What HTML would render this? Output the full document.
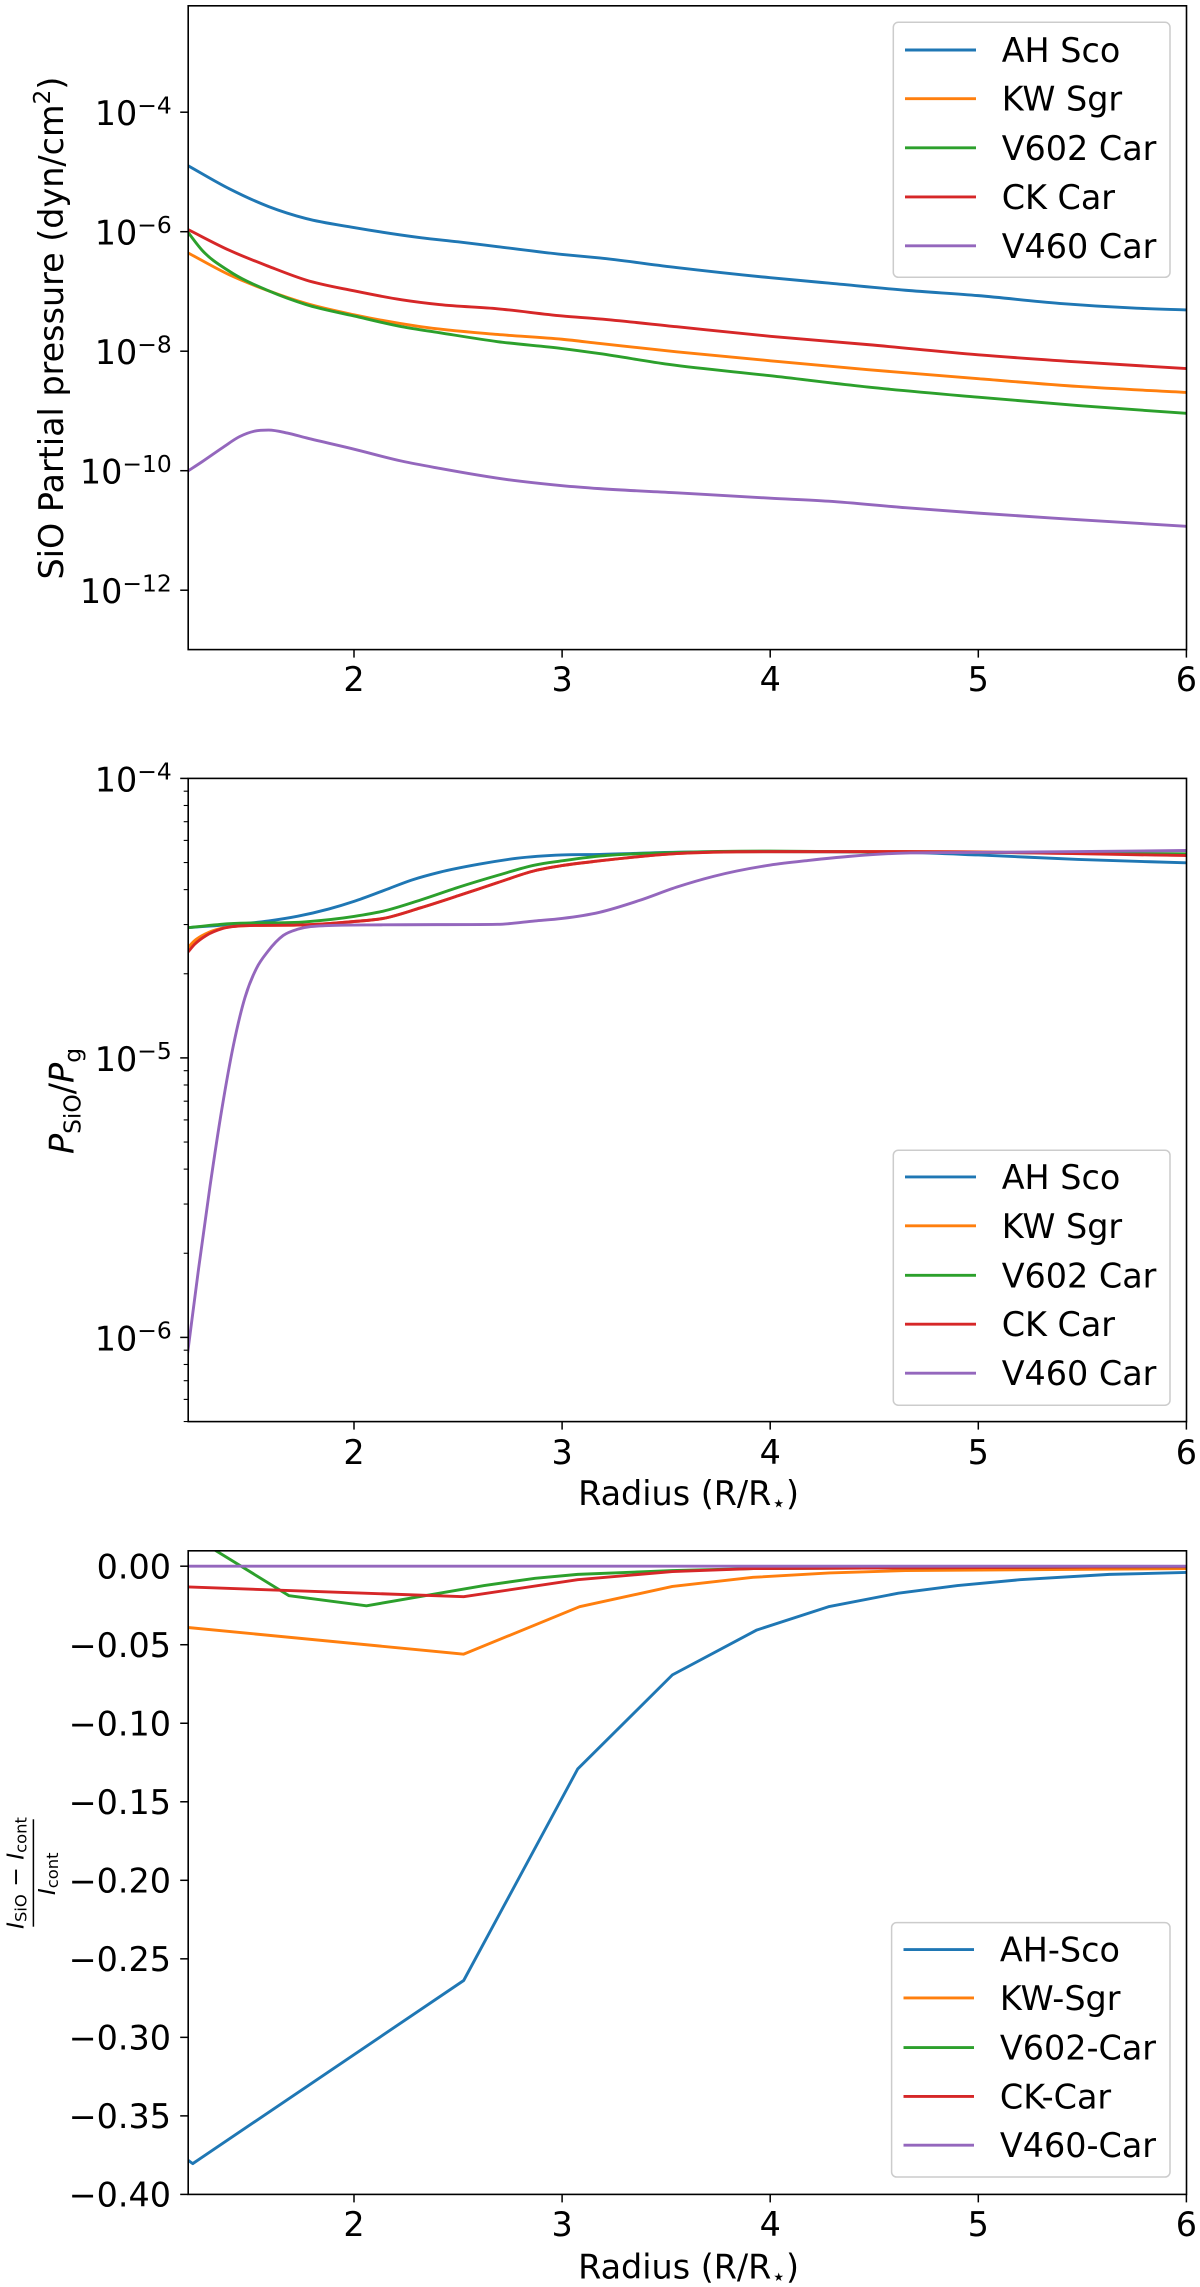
<!DOCTYPE html>
<html lang="en">
<head>
<meta charset="utf-8">
<title>SiO partial pressure, abundance and line depth versus radius</title>
<style>
html,body{margin:0;padding:0;background:#fff;width:1200px;height:2287px;overflow:hidden}
svg{display:block}
text{font-family:"DejaVu Sans","Liberation Sans",sans-serif;fill:#000}
</style>
</head>
<body>
<svg id="figure" xmlns="http://www.w3.org/2000/svg" width="1200" height="2287" viewBox="0 0 1200 2287">
  <rect x="0" y="0" width="1200" height="2287" fill="#fff"/>
</svg>
<script>
// ---------- Shared labels ----------
const seriesNames = ["AH Sco", "KW Sgr", "V602 Car", "CK Car", "V460 Car"];
const seriesNamesDashed = ["AH-Sco", "KW-Sgr", "V602-Car", "CK-Car", "V460-Car"];
const xTickValues = [2, 3, 4, 5, 6];

// ---------- Panel 1: SiO partial pressure (log10 dyn/cm2) ----------
const pressureExponentTicks = [-4, -6, -8, -10, -12];
const pressureAhR = [1.2,1.4,1.59,1.77,2,2.32,2.5,2.69,3,3.18,3.55,4,4.28,4.65,5,5.39,5.76,6];
const pressureAhLog = [-4.89,-5.28,-5.58,-5.78,-5.93,-6.10,-6.17,-6.25,-6.38,-6.44,-6.60,-6.77,-6.86,-6.98,-7.07,-7.20,-7.28,-7.31];
const pressureKwR = [1.2,1.4,1.59,1.77,2,2.32,2.69,3,3.18,3.55,4,4.47,5,5.48,6];
const pressureKwLog = [-6.35,-6.72,-6.99,-7.20,-7.39,-7.59,-7.72,-7.80,-7.87,-8.01,-8.16,-8.31,-8.46,-8.59,-8.69];
const pressureV602R = [1.2,1.27,1.4,1.59,1.77,2,2.23,2.41,2.69,3,3.18,3.51,4,4.47,5,5.48,6];
const pressureV602Log = [-6.00,-6.31,-6.66,-6.99,-7.22,-7.41,-7.59,-7.69,-7.84,-7.955,-8.04,-8.22,-8.41,-8.60,-8.77,-8.91,-9.04];
const pressureCkR = [1.2,1.4,1.59,1.77,2,2.23,2.41,2.69,3,3.18,3.55,4,4.47,5,5.48,6];
const pressureCkLog = [-5.96,-6.31,-6.58,-6.81,-6.99,-7.14,-7.22,-7.29,-7.41,-7.46,-7.59,-7.75,-7.89,-8.06,-8.18,-8.29];
const pressureV460R = [1.2,1.27,1.37,1.45,1.52,1.59,1.68,1.77,2,2.23,2.41,2.74,3,3.18,3.55,4,4.28,4.65,5,5.48,6];
const pressureV460Log = [-10.01,-9.85,-9.61,-9.43,-9.34,-9.32,-9.37,-9.45,-9.64,-9.84,-9.96,-10.15,-10.25,-10.30,-10.37,-10.46,-10.51,-10.62,-10.71,-10.82,-10.93];

// ---------- Panel 2: P_SiO / P_g (log10) ----------
const ratioExponentTicks = [-4, -5, -6];
const ratioMinorMultipliers = [2, 3, 4, 5, 6, 7, 8, 9];
const ratioAhR = [1.2,1.59,1.73,1.88,2,2.14,2.28,2.41,2.6,2.78,3,3.18,3.55,4,4.65,5,5.48,6];
const ratioAhLog = [-4.534,-4.51,-4.493,-4.467,-4.44,-4.402,-4.363,-4.336,-4.307,-4.286,-4.274,-4.272,-4.264,-4.262,-4.265,-4.274,-4.29,-4.302];
const ratioKwR = [1.2,1.235,1.29,1.365,1.48,1.77,2,2.14,2.32,2.5,2.69,2.87,3,3.18,3.55,4,4.65,6];
const ratioKwLog = [-4.607,-4.58,-4.555,-4.536,-4.527,-4.524,-4.512,-4.501,-4.463,-4.42,-4.373,-4.33,-4.312,-4.295,-4.269,-4.262,-4.262,-4.272];
const ratioV602R = [1.2,1.4,1.77,2,2.14,2.32,2.5,2.69,2.87,3,3.18,3.55,4,4.65,5,6];
const ratioV602Log = [-4.534,-4.52,-4.513,-4.494,-4.475,-4.435,-4.39,-4.347,-4.31,-4.295,-4.278,-4.265,-4.26,-4.264,-4.265,-4.27];
const ratioCkR = [1.2,1.235,1.29,1.365,1.48,1.77,2,2.14,2.32,2.5,2.69,2.87,3,3.18,3.55,4,4.65,6];
const ratioCkLog = [-4.623,-4.593,-4.562,-4.538,-4.527,-4.524,-4.512,-4.501,-4.463,-4.42,-4.373,-4.33,-4.312,-4.295,-4.269,-4.262,-4.262,-4.276];
const ratioV460R = [1.2,1.253,1.308,1.365,1.42,1.476,1.531,1.586,1.66,1.733,1.86,2.14,2.69,2.87,3,3.18,3.37,3.55,3.73,4,4.19,4.38,4.65,5,6];
const ratioV460Log = [-6.059,-5.755,-5.46,-5.183,-4.957,-4.784,-4.68,-4.619,-4.562,-4.539,-4.527,-4.524,-4.522,-4.51,-4.501,-4.479,-4.437,-4.389,-4.35,-4.31,-4.293,-4.279,-4.267,-4.265,-4.258];

// ---------- Panel 3: relative line depth ----------
const depthTickValues = [0, -0.05, -0.10, -0.15, -0.20, -0.25, -0.30, -0.35, -0.40];
const depthTickLabels = ["0.00", "\u22120.05", "\u22120.10", "\u22120.15", "\u22120.20", "\u22120.25", "\u22120.30", "\u22120.35", "\u22120.40"];
const depthAhR = [1.2,1.225,2.527,3.075,3.53,3.936,4.28,4.616,4.90,5.2,5.63,6];
const depthAhVal = [-0.378,-0.3804,-0.2638,-0.1291,-0.0692,-0.0406,-0.0258,-0.0172,-0.0123,-0.0086,-0.0052,-0.004];
const depthKwR = [1.2,2.527,3.084,3.53,3.917,4.285,4.65,6];
const depthKwVal = [-0.039,-0.056,-0.0258,-0.0129,-0.0071,-0.0043,-0.0028,-0.0015];
const depthV602R = [1.2,1.688,2.06,2.625,2.87,3.075,3.53,3.92,6];
const depthV602Val = [0.021,-0.0188,-0.0252,-0.0123,-0.0077,-0.0052,-0.0028,-0.0015,-0.0003];
const depthCkR = [1.2,2.527,3.075,3.53,3.92,6];
const depthCkVal = [-0.0132,-0.0194,-0.0086,-0.0034,-0.0015,-0.0003];
const depthV460R = [1.2,2,3,4,5,6];
const depthV460Val = [0,0,0,0,0,0];

// ---------- Rendering ----------
const NS = "http://www.w3.org/2000/svg";
const fig = document.getElementById("figure");
const COLORS = ["#1f77b4", "#ff7f0e", "#2ca02c", "#d62728", "#9467bd"];
const SLUGS = ["ah-sco", "kw-sgr", "v602-car", "ck-car", "v460-car"];
const FONT = 33.4;
const AX_L = 188.2, AX_R = 1186.5;
const xScale = r => 354 + (r - 2) * 208.1;

function make(tag, parent, attrs) {
  const e = document.createElementNS(NS, tag);
  for (const k in attrs) e.setAttribute(k, attrs[k]);
  parent.appendChild(e);
  return e;
}
function hText(parent, x, y, anchor, size) {
  return make("text", parent, {
    transform: "translate(" + x + "," + y + ")",
    "text-anchor": anchor,
    "font-size": size || FONT
  });
}
function vText(parent, x, y, anchor, size) {
  return make("text", parent, {
    transform: "translate(" + x + "," + y + ") rotate(-90)",
    "text-anchor": anchor,
    "font-size": size || FONT
  });
}
function smoothPath(pts) {
  const n = pts.length, d = [], w = [], m = [];
  for (let i = 0; i < n - 1; i++) {
    w.push(pts[i + 1][0] - pts[i][0]);
    d.push((pts[i + 1][1] - pts[i][1]) / w[i]);
  }
  m[0] = d[0];
  m[n - 1] = d[n - 2];
  for (let i = 1; i < n - 1; i++) {
    if (d[i - 1] * d[i] <= 0) {
      m[i] = 0;
    } else {
      const avg = (w[i] * d[i - 1] + w[i - 1] * d[i]) / (w[i - 1] + w[i]);
      const limit = 3 * Math.min(Math.abs(d[i - 1]), Math.abs(d[i]));
      m[i] = Math.sign(avg) * Math.min(Math.abs(avg), limit);
    }
  }
  let s = "M" + pts[0][0].toFixed(2) + " " + pts[0][1].toFixed(2);
  for (let i = 0; i < n - 1; i++) {
    const h = w[i] / 3;
    s += "C" + (pts[i][0] + h).toFixed(2) + " " + (pts[i][1] + m[i] * h).toFixed(2) + " " +
         (pts[i + 1][0] - h).toFixed(2) + " " + (pts[i + 1][1] - m[i + 1] * h).toFixed(2) + " " +
         pts[i + 1][0].toFixed(2) + " " + pts[i + 1][1].toFixed(2);
  }
  return s;
}
function straightPath(pts) {
  return "M" + pts.map(p => p[0].toFixed(2) + " " + p[1].toFixed(2)).join("L");
}
function drawSeries(panel, clipId, prefix, rs, vals, yScale, idx, smooth) {
  const pts = rs.map((r, i) => [xScale(r), yScale(vals[i])]);
  const p = make("path", panel, {
    d: smooth ? smoothPath(pts) : straightPath(pts),
    fill: "none",
    stroke: COLORS[idx],
    "stroke-width": 2.9,
    "stroke-linejoin": "round",
    "clip-path": "url(#" + clipId + ")"
  });
  
  
}
function drawFrame(panel, top, bottom) {
  const f = make("rect", panel, {
    x: AX_L, y: top, width: AX_R - AX_L, height: bottom - top,
    fill: "none", stroke: "#000", "stroke-width": 1.6
  });
  
  
}
function drawXTicks(panel, bottom, labelBaseline) {
  xTickValues.forEach(v => {
    const x = xScale(v);
    const t = make("line", panel, { x1: x, x2: x, y1: bottom, y2: bottom + 8, stroke: "#000", "stroke-width": 1.5 });
    
    
    const l = hText(panel, x, labelBaseline, "middle");
    l.textContent = String(v);
    
    
  });
}
function drawYTick(panel, y, len) {
  const t = make("line", panel, { x1: AX_L - len, x2: AX_L, y1: y, y2: y, stroke: "#000", "stroke-width": len > 6 ? 1.5 : 1.1 });
  
  
}
function drawPowerLabel(panel, y, exponent, baseOffset) {
  const l = hText(panel, 171.7, y + baseOffset, "end");
  const a = make("tspan", l, {});
  a.textContent = "10";
  const b = make("tspan", l, { dy: -11.7, "font-size": FONT * 0.7 });
  b.textContent = "\u2212" + Math.abs(exponent);
  
  
}
function drawLegend(panel, prefix, names, box, rows, lineX, textX) {
  const g = make("g", panel, {});
  
  
  const r = make("rect", g, {
    x: box[0], y: box[1], width: box[2] - box[0], height: box[3] - box[1],
    rx: 5, ry: 5, fill: "#fff", "fill-opacity": 0.8, stroke: "#ccc", "stroke-width": 1.5
  });
  
  
  names.forEach((name, i) => {
    const s = make("line", g, { x1: lineX[0], x2: lineX[1], y1: rows[i], y2: rows[i], stroke: COLORS[i], "stroke-width": 2.9 });
    
    
    const t = hText(g, textX, rows[i] + 12, "start");
    t.textContent = name;
    
    
  });
}
function addClip(id, top, bottom) {
  const c = make("clipPath", fig, { id: id });
  make("rect", c, { x: AX_L, y: top, width: AX_R - AX_L, height: bottom - top });
}
function drawXLabel(panel, baseline) {
  const l = hText(panel, 688.6, baseline, "middle");
  const a = make("tspan", l, {});
  a.textContent = "Radius (R/R";
  const b = make("tspan", l, { dy: 6, "font-size": FONT * 0.7 });
  b.textContent = "\u22c6";
  const c = make("tspan", l, { dy: -6 });
  c.textContent = ")";
  
  
}

// Panel 1
const p1 = make("g", fig, {});


const P1_T = 5.8, P1_B = 649.6;
const y1 = lg => 231.7 + (-6 - lg) * 59.75;
addClip("clip1", P1_T, P1_B);
drawSeries(p1, "clip1", "pressure", pressureAhR, pressureAhLog, y1, 0, true);
drawSeries(p1, "clip1", "pressure", pressureKwR, pressureKwLog, y1, 1, true);
drawSeries(p1, "clip1", "pressure", pressureV602R, pressureV602Log, y1, 2, true);
drawSeries(p1, "clip1", "pressure", pressureCkR, pressureCkLog, y1, 3, true);
drawSeries(p1, "clip1", "pressure", pressureV460R, pressureV460Log, y1, 4, true);
drawFrame(p1, P1_T, P1_B);
drawXTicks(p1, P1_B, 691);
pressureExponentTicks.forEach(e => {
  drawYTick(p1, y1(e), 8);
  drawPowerLabel(p1, y1(e), e, 13);
});
drawLegend(p1, "pressure", seriesNames, [893.3, 22.3, 1170, 277.3], [50, 98.7, 147.8, 196.9, 245.8], [905, 976], 1001.7);
const yl1 = vText(p1, 63, 328, "middle");
const yl1a = make("tspan", yl1, {});
yl1a.textContent = "SiO Partial pressure (dyn/cm";
const yl1b = make("tspan", yl1, { dy: -13, "font-size": FONT * 0.7 });
yl1b.textContent = "2";
const yl1c = make("tspan", yl1, { dy: 13 });
yl1c.textContent = ")";



// Panel 2
const p2 = make("g", fig, {});


const P2_T = 778.4, P2_B = 1421.6;
const y2 = lg => 778.4 + (-4 - lg) * 279.5;
addClip("clip2", P2_T, P2_B);
drawSeries(p2, "clip2", "abundance", ratioAhR, ratioAhLog, y2, 0, true);
drawSeries(p2, "clip2", "abundance", ratioKwR, ratioKwLog, y2, 1, true);
drawSeries(p2, "clip2", "abundance", ratioV602R, ratioV602Log, y2, 2, true);
drawSeries(p2, "clip2", "abundance", ratioCkR, ratioCkLog, y2, 3, true);
drawSeries(p2, "clip2", "abundance", ratioV460R, ratioV460Log, y2, 4, true);
drawFrame(p2, P2_T, P2_B);
drawXTicks(p2, P2_B, 1463.8);
ratioExponentTicks.forEach(e => {
  drawYTick(p2, y2(e), 8);
  drawPowerLabel(p2, y2(e), e, 13);
});
[-5, -6, -7].forEach(e => {
  ratioMinorMultipliers.forEach(m => {
    const y = y2(e + Math.log10(m));
    if (y >= P2_T && y <= P2_B + 0.5) drawYTick(p2, y, 4.5);
  });
});
drawLegend(p2, "abundance", seriesNames, [893.3, 1150.2, 1170, 1405.2], [1176.9, 1225.8, 1275.3, 1324.2, 1373.2], [905, 976], 1001.7);
drawXLabel(p2, 1505);
const yl2 = vText(p2, 73.5, 1101, "middle");
const yl2a = make("tspan", yl2, { "font-style": "italic" });
yl2a.textContent = "P";
const yl2b = make("tspan", yl2, { dy: 7, "font-size": FONT * 0.7 });
yl2b.textContent = "SiO";
const yl2c = make("tspan", yl2, { dy: -7 });
yl2c.textContent = "/";
const yl2d = make("tspan", yl2, { "font-style": "italic" });
yl2d.textContent = "P";
const yl2e = make("tspan", yl2, { dy: 7, "font-size": FONT * 0.7 });
yl2e.textContent = "g";



// Panel 3
const p3 = make("g", fig, {});


const P3_T = 1550.8, P3_B = 2194.4;
const y3 = v => 1566.2 - v * 1570.5;
addClip("clip3", P3_T, P3_B);
drawSeries(p3, "clip3", "line-depth", depthAhR, depthAhVal, y3, 0, false);
drawSeries(p3, "clip3", "line-depth", depthKwR, depthKwVal, y3, 1, false);
drawSeries(p3, "clip3", "line-depth", depthV602R, depthV602Val, y3, 2, false);
drawSeries(p3, "clip3", "line-depth", depthCkR, depthCkVal, y3, 3, false);
drawSeries(p3, "clip3", "line-depth", depthV460R, depthV460Val, y3, 4, false);
drawFrame(p3, P3_T, P3_B);
drawXTicks(p3, P3_B, 2235.9);
depthTickValues.forEach((v, i) => {
  drawYTick(p3, y3(v), 8);
  const l = hText(p3, 171, y3(v) + 12.1, "end");
  l.textContent = depthTickLabels[i];
  
  
});
drawLegend(p3, "line-depth", seriesNamesDashed, [891.6, 1922.6, 1170, 2177], [1949.6, 1997.9, 2047.6, 2096.4, 2145.2], [903.5, 974], 999.9);
drawXLabel(p3, 2278.4);

const yl3 = make("g", p3, {});


const FR = 23.4;
const num = vText(yl3, 23.5, 1873, "middle", FR);
const n1 = make("tspan", num, { "font-style": "italic" });
n1.textContent = "I";
const n2 = make("tspan", num, { dy: 3, "font-size": FR * 0.7 });
n2.textContent = "SiO";
const n3 = make("tspan", num, { dy: -3 });
n3.textContent = " \u2212 ";
const n4 = make("tspan", num, { "font-style": "italic" });
n4.textContent = "I";
const n5 = make("tspan", num, { dy: 3, "font-size": FR * 0.7 });
n5.textContent = "cont";
const bar = make("line", yl3, { x1: 33.4, x2: 33.4, y1: 1819.3, y2: 1926.7, stroke: "#000", "stroke-width": 1.5 });


const den = vText(yl3, 55, 1873.8, "middle", FR);
const d1 = make("tspan", den, { "font-style": "italic" });
d1.textContent = "I";
const d2 = make("tspan", den, { dy: 3, "font-size": FR * 0.7 });
d2.textContent = "cont";
</script>
</body>
</html>
